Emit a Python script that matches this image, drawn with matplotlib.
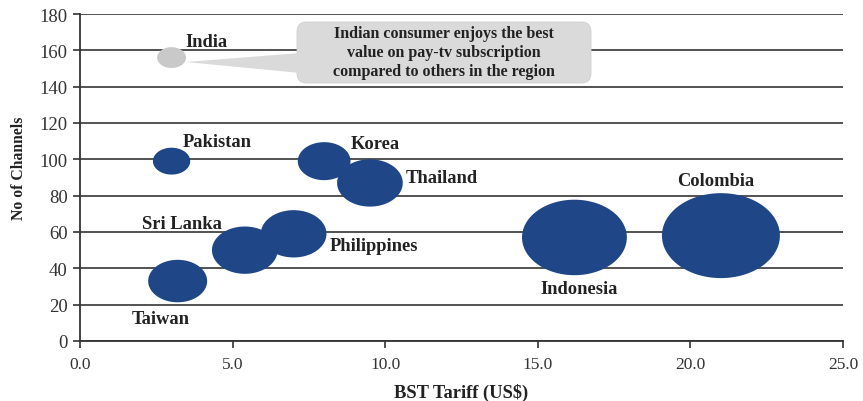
import numpy as np
import matplotlib
matplotlib.use("Agg")
import matplotlib.pyplot as plt
from matplotlib.path import Path
from matplotlib.patches import FancyBboxPatch, Polygon

# ---- data ----
countries = ["India", "Pakistan", "Korea", "Thailand", "Sri Lanka",
             "Philippines", "Taiwan", "Indonesia", "Colombia"]
bst_tariff = [3.0, 3.0, 8.0, 9.5, 5.4, 7.0, 3.2, 16.2, 21.0]
channels = [156, 99, 99, 87, 50, 59, 33, 57, 58]
bubble_size = [6, 10, 20, 31, 31, 31, 25, 79, 100]
x_ticks = [0.0, 5.0, 10.0, 15.0, 20.0, 25.0]
y_ticks = [0, 20, 40, 60, 80, 100, 120, 140, 160, 180]
callout_text = "Indian consumer enjoys the best\nvalue on pay-tv subscription\ncompared to others in the region"

# ---- styles ----
NAVY = "#1F4687"
GREY = "#C9C9C9"
colors = [GREY] + [NAVY] * (len(countries) - 1)
label_style = {  # offset in points, ha
    "India": ((9.7, 11.5), "left"),
    "Pakistan": ((8.3, 14.0), "left"),
    "Korea": ((19, 13.0), "left"),
    "Thailand": ((26, 4.2), "left"),
    "Sri Lanka": ((-16.7, 19.2), "right"),
    "Philippines": ((26, -8.2), "left"),
    "Taiwan": ((-12.2, -26.7), "center"),
    "Indonesia": ((3.2, -36.4), "center"),
    "Colombia": ((-3.6, 40), "center"),
}

plt.rcParams["font.family"] = ["Liberation Serif", "DejaVu Serif"]

fig = plt.figure(figsize=(8.63, 4.02), dpi=100)
ax = fig.add_axes([80 / 863, 60 / 402, 763 / 863, 327 / 402])

# ellipse marker (bubbles appear horizontally stretched)
t = np.linspace(0, 2 * np.pi, 100)
ell = Path(np.column_stack([np.cos(t), 0.72 * np.sin(t)]), closed=True)

s_scale = (118 * 0.72) ** 2 / 100.0
ax.scatter(bst_tariff, channels, s=[b * s_scale for b in bubble_size],
           c=colors, marker=ell, linewidths=0, zorder=3)

for name, x, y in zip(countries, bst_tariff, channels):
    (dx, dy), ha = label_style[name]
    ax.annotate(name, (x, y), xytext=(dx, dy), textcoords="offset points",
                ha=ha, va="center", fontsize=13.3, fontweight="bold",
                color="#222222", zorder=4)

ax.set_xlim(0, 25)
ax.set_ylim(0, 180)
ax.set_xticks(x_ticks)
ax.set_xticklabels([f"{v:.1f}" for v in x_ticks])
ax.set_yticks(y_ticks)
ax.yaxis.grid(True, color="#444444", linewidth=1.3)
ax.set_axisbelow(True)
for sp in ["top", "right"]:
    ax.spines[sp].set_visible(False)
ax.spines["left"].set_color("#333333")
ax.spines["bottom"].set_color("#333333")
ax.spines["left"].set_linewidth(1.3)
ax.spines["bottom"].set_linewidth(1.3)
ax.tick_params(axis="both", colors="#333333", length=5, width=1.2)
ax.tick_params(axis="x", labelsize=12.5, pad=6)
ax.tick_params(axis="y", labelsize=13.5, pad=4)

ax.set_xlabel("BST Tariff (US$)", fontsize=13.3, fontweight="bold", labelpad=8,
              color="#222222")
ax.set_ylabel("No of Channels", fontsize=11.3, fontweight="bold",
              color="#222222", va="center")
ax.yaxis.set_label_coords((19 - 80) / 763, (342 - 168) / 327)

# callout box (figure pixel coords)
def px(xp, yp):
    return (xp / 863, 1 - yp / 402)

bx0, by0 = px(297, 84)
bx1, by1 = px(591, 23)
box = FancyBboxPatch((bx0, by0), bx1 - bx0, by1 - by0,
                     boxstyle="round,pad=0,rounding_size=0.011",
                     mutation_aspect=863 / 402,
                     transform=fig.transFigure, facecolor="#DADADA",
                     edgecolor="#CFCFCF", linewidth=0.6, zorder=5)
fig.patches.append(box)
wedge = Polygon([px(186, 63), px(300, 54), px(300, 74)], closed=True,
                transform=fig.transFigure, facecolor="#DADADA",
                edgecolor="none", zorder=5)
fig.patches.append(wedge)
cx, cy = px(444, 53)
fig.text(cx, cy, callout_text, ha="center", va="center", fontsize=11.5,
         fontweight="bold", color="#222222", linespacing=1.25, zorder=6)

fig.savefig("out.png", dpi=100)
